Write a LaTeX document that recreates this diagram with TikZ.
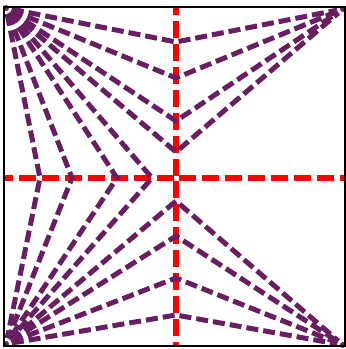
\documentclass[tikz,border=0pt]{standalone}
\usepackage{tikz}
\usetikzlibrary{positioning, calc}
\usepackage{xcolor}
\definecolor{edgepurple}{RGB}{104, 30, 96}
\definecolor{axisred}{RGB}{255, 0, 0}

\begin{document}
\begin{tikzpicture}[x=1pt, y=-1pt,
    corner/.style={circle, fill=edgepurple, inner sep=0pt, minimum size=6pt, outer sep=3pt},
    ray/.style={edgepurple, line width=5pt, dash pattern=on 12pt off 5pt},
    axis/.style={axisred, line width=6pt, dash pattern=on 17pt off 6pt, dash phase=20.5pt}]
  \useasboundingbox (0,0) rectangle (346,349);

  % corners
  \node[corner] (tl) at (6,8) {};   \node[corner] (tr) at (343,9) {};
  \node[corner] (bl) at (6,344) {}; \node[corner] (br) at (343,345) {};

  % axis ends and centre
  \coordinate (o) at (176,178);
  \coordinate (top) at (176,7);  \coordinate (bot) at (176,346);
  \coordinate (lft) at (4,178);  \coordinate (rgt) at (345,178);

  % points on the axes
  \coordinate (u1) at (176,42);  \coordinate (u2) at (176,78);
  \coordinate (u3) at (176,121); \coordinate (u4) at (176,152);
  \coordinate (d1) at (176,201); \coordinate (d2) at (176,236);
  \coordinate (d3) at (176,278); \coordinate (d4) at (176,315);
  \coordinate (h1) at (40,178);  \coordinate (h2) at (72,178);
  \coordinate (h3) at (117,178); \coordinate (h4) at (152,178);

  % red axes
  \draw[axis] (o)--(top); \draw[axis] (o)--(bot);
  \draw[axis] (o)--(lft); \draw[axis] (o)--(rgt);

  % upper rays
  \draw[ray] (tl)--(u1)--(tr);
  \draw[ray] (tl)--(u2)--(tr);
  \draw[ray] (tl)--(u3)--(tr);
  \draw[ray] (tl)--(u4)--(tr);
  % left rays
  \draw[ray] (tl)--(h1)--(bl);
  \draw[ray] (tl)--(h2)--(bl);
  \draw[ray] (tl)--(h3)--(bl);
  \draw[ray] (tl)--(h4)--(bl);
  % lower rays
  \draw[ray] (bl)--(d1)--(br);
  \draw[ray] (bl)--(d2)--(br);
  \draw[ray] (bl)--(d3)--(br);
  \draw[ray] (bl)--(d4)--(br);

  % frame
  \draw[black, line width=2.5pt] (4,7) rectangle (345,346);
\end{tikzpicture}
\end{document}
